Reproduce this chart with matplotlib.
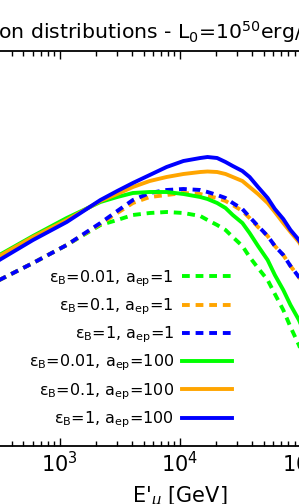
import matplotlib
matplotlib.use("Agg")
import matplotlib.pyplot as plt
import numpy as np

# energies (log10 of E' in GeV), shared by all curves
log_E = [2.46, 2.50, 2.78, 3.06, 3.34, 3.48, 3.61, 3.75, 3.89, 4.03, 4.17, 4.23,
         4.31, 4.38, 4.44, 4.52, 4.58, 4.65, 4.73, 4.79, 4.86, 4.92, 4.99, 5.08]

# log10 of the distributions (arbitrary units)
eB001_a1 = [-2.64, -2.58, -2.24, -1.88, -1.48, -1.38, -1.28, -1.24, -1.22, -1.24, -1.30, -1.38,
            -1.48, -1.58, -1.72, -1.90, -2.12, -2.34, -2.58, -2.86, -3.18, -3.52, -3.88, -4.42]
eB01_a1 = [-2.64, -2.58, -2.24, -1.88, -1.46, -1.24, -1.04, -0.92, -0.88, -0.84, -0.86, -0.90,
           -0.94, -1.00, -1.08, -1.20, -1.34, -1.52, -1.70, -1.90, -2.08, -2.30, -2.52, -2.88]
eB1_a1 = [-2.64, -2.58, -2.24, -1.88, -1.44, -1.20, -0.98, -0.84, -0.78, -0.76, -0.78, -0.82,
          -0.88, -0.94, -1.04, -1.16, -1.32, -1.50, -1.70, -1.90, -2.08, -2.30, -2.52, -2.88]
eB001_a100 = [-2.14, -2.08, -1.70, -1.34, -1.02, -0.92, -0.84, -0.82, -0.82, -0.86, -0.92, -0.96,
              -1.04, -1.14, -1.28, -1.44, -1.64, -1.90, -2.18, -2.48, -2.78, -3.08, -3.38, -3.88]
eB01_a100 = [-2.16, -2.10, -1.72, -1.38, -1.00, -0.86, -0.72, -0.60, -0.52, -0.46, -0.42, -0.41,
             -0.42, -0.46, -0.52, -0.60, -0.72, -0.86, -1.04, -1.22, -1.44, -1.62, -1.82, -2.18]
eB1_a100 = [-2.24, -2.18, -1.78, -1.42, -0.98, -0.80, -0.64, -0.48, -0.32, -0.20, -0.14, -0.12,
            -0.14, -0.22, -0.30, -0.40, -0.52, -0.72, -0.94, -1.16, -1.36, -1.58, -1.78, -2.14]

series = [
    (eB001_a1, "lime", "--", r"ε$_\mathrm{B}$=0.01, a$_\mathrm{ep}$=1"),
    (eB01_a1, "orange", "--", r"ε$_\mathrm{B}$=0.1, a$_\mathrm{ep}$=1"),
    (eB1_a1, "blue", "--", r"ε$_\mathrm{B}$=1, a$_\mathrm{ep}$=1"),
    (eB001_a100, "lime", "-", r"ε$_\mathrm{B}$=0.01, a$_\mathrm{ep}$=100"),
    (eB01_a100, "orange", "-", r"ε$_\mathrm{B}$=0.1, a$_\mathrm{ep}$=100"),
    (eB1_a100, "blue", "-", r"ε$_\mathrm{B}$=1, a$_\mathrm{ep}$=100"),
]

fig = plt.figure(figsize=(2.99, 5.04), dpi=100)
# the visible region is only a window of a larger panel
ax = fig.add_axes([-0.2033, 0.1151, 1.6094, 0.7837])

E = 10 ** np.array(log_E)
for vals, col, ls, lab in series:
    line, = ax.plot(E, 10 ** np.array(vals), color=col, ls=ls, lw=2.8, label=lab)
    if ls == "--":
        line.set_dashes((2.0, 1.5))

ax.set_xscale("log")
ax.set_yscale("log")
ax.set_xlim(1e2, 1e6)
ax.set_ylim(10 ** -5.9, 1e2)

ax.tick_params(which="both", direction="in", top=True, right=True, labelsize=15)
ax.tick_params(which="major", length=6, width=1)
ax.tick_params(which="minor", length=3.5, width=1)
for s in ax.spines.values():
    s.set_linewidth(1.3)

ax.set_xlabel(r"E$'_\mu$ [GeV]", fontsize=15, labelpad=6)

fig.text(1.047, 0.9226, r"Muon distributions - L$_0$=10$^{50}$erg/s",
         ha="right", va="baseline", fontsize=14.7)

ax.legend(loc="lower right", bbox_to_anchor=(232 / 299, 0.147),
          bbox_transform=fig.transFigure, frameon=False, markerfirst=False,
          fontsize=11.5, handlelength=3.13, handletextpad=0.5,
          labelspacing=0.48, borderpad=0, borderaxespad=0)

fig.savefig("out.png", dpi=100)
